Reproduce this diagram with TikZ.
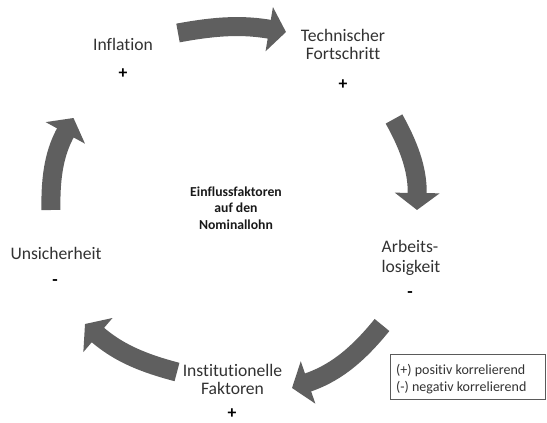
\documentclass[tikz,border=0pt]{standalone}
\usepackage{fontspec}
\setmainfont[Ligatures=NoCommon]{Carlito}
\usetikzlibrary{arrows.meta}
\definecolor{arrowgray}{RGB}{95,95,95}
\definecolor{txtgray}{RGB}{50,50,50}
\definecolor{boxgray}{RGB}{90,90,90}
\begin{document}
\begin{tikzpicture}[x=1pt,y=1pt,
  lbl/.style={inner sep=0pt, anchor=base, text=txtgray, font=\fontsize{17.6}{19}\selectfont},
  sign/.style={inner sep=0pt, anchor=center, text=black, font=\fontsize{17.6}{19}\bfseries\selectfont},
  ctr/.style={inner sep=0pt, anchor=base, text=black!90, font=\fontsize{13.7}{16}\bfseries\selectfont},
  legend/.style={inner sep=0pt, anchor=base west, text=txtgray, font=\fontsize{14}{17}\selectfont},
  cyc/.style={arrowgray, line width=19pt, -{Triangle[width=44pt,length=17pt]}}]
\useasboundingbox (0,0) rectangle (547,423);

% labels
\node[lbl] (infl) at (123,372) {Inflation};
\node[sign] (inflS) at (123,349) {+};
\node[lbl] (tech1) at (343,381) {Technischer};
\node[lbl] (tech2) at (343,363) {Fortschritt};
\node[sign] (techS) at (343,338) {+};
\node[lbl] (arb1) at (410,170) {Arbeits-};
\node[lbl] (arb2) at (411,150.5) {losigkeit};
\node[sign] (arbS) at (410,128) {-};
\node[lbl] (inst1) at (232.5,46) {Institutionelle};
\node[lbl] (inst2) at (232.5,28) {Faktoren};
\node[sign] (instS) at (232,9) {+};
\node[lbl] (uns) at (56,163) {Unsicherheit};
\node[sign] (unsS) at (55,140) {-};

% centre
\node[ctr] (c1) at (236,226.3) {Einflussfaktoren};
\node[ctr] (c2) at (236,210) {auf den};
\node[ctr] (c3) at (236,193) {Nominallohn};

% legend
\node[draw=boxgray, line width=0.8pt, minimum width=155pt, minimum height=45pt, inner sep=0pt] (legbox) at (467.5,46.5) {};
\node[legend] (leg1) at (396,48) {(+) positiv korrelierend};
\node[legend] (leg2) at (396,31) {(-) negativ korrelierend};

% cycle arrows
\coordinate (a1s) at (178,390); \coordinate (a1e) at (286,391);
\coordinate (a2s) at (394,304); \coordinate (a2e) at (417,213);
\coordinate (a3s) at (382,98);  \coordinate (a3e) at (292,35);
\coordinate (a4s) at (177,51);  \coordinate (a4e) at (85,99);
\coordinate (a5s) at (51,213);  \coordinate (a5e) at (73.5,305);
\draw[cyc] (a1s) to[bend left=10] (a1e);
\draw[cyc] (a2s) to[bend left=15] (a2e);
\draw[cyc] (a3s) to[bend left=16] (a3e);
\draw[cyc] (a4s) to[bend left=13] (a4e);
\draw[cyc] (a5s) to[bend left=15] (a5e);
\end{tikzpicture}
\end{document}
